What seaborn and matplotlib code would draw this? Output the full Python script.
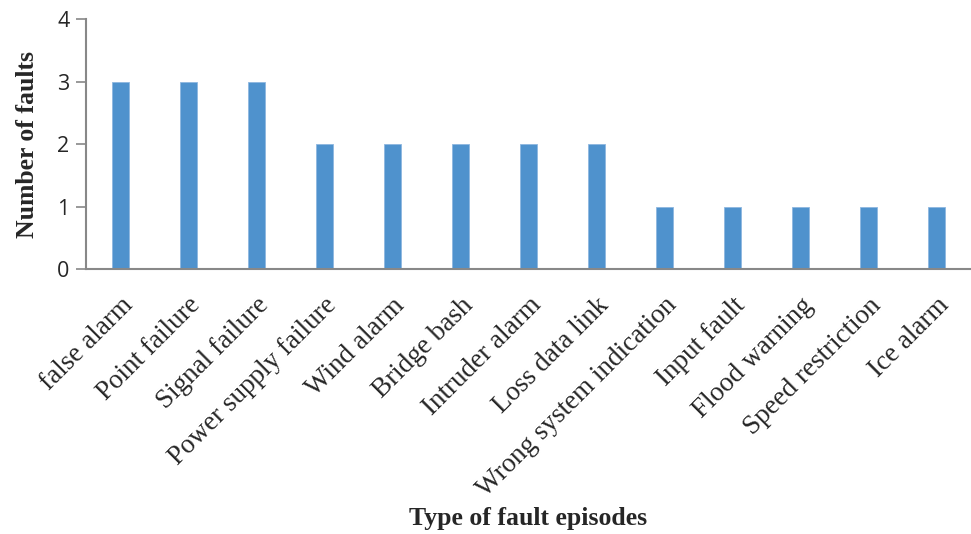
import matplotlib
matplotlib.use("Agg")
import matplotlib.pyplot as plt
import seaborn as sns
import pandas as pd

categories = ["false alarm", "Point failure", "Signal failure", "Power supply failure",
              "Wind alarm", "Bridge bash", "Intruder alarm", "Loss data link",
              "Wrong system indication", "Input fault", "Flood warning",
              "Speed restriction", "Ice alarm"]
faults = [3, 3, 3, 2, 2, 2, 2, 2, 1, 1, 1, 1, 1]

df = pd.DataFrame({"episode": categories, "faults": faults})

sns.set_theme(style="white")
plt.rcParams["font.family"] = ["Liberation Serif", "DejaVu Serif"]

fig = plt.figure(figsize=(9.71, 5.34), dpi=100)
ax = fig.add_axes([0.0886, 0.496, 0.911, 0.468])

sns.barplot(data=df, x="episode", y="faults", color="#4F92CD", width=0.25,
            saturation=1, edgecolor="#8DB7E0", linewidth=0.6, ax=ax)

ax.set_ylim(0, 4)
ax.set_yticks([0, 1, 2, 3, 4])
ax.set_yticklabels(["0", "1", "2", "3", "4"], fontsize=15.5, family=["Open Sans", "DejaVu Sans"])
ax.set_xlim(-0.5, len(categories) - 0.5)

ax.set_xticks(range(len(categories)))
ax.set_xticklabels(categories, rotation=45, ha="right", rotation_mode="anchor", fontsize=19.5)
ax.tick_params(axis="x", length=0, pad=17)
ax.tick_params(axis="y", length=7, width=1.2, color="#888888", direction="out", left=True, pad=5)

for s in ["top", "right"]:
    ax.spines[s].set_visible(False)
for s in ["left", "bottom"]:
    ax.spines[s].set_color("#888888")
    ax.spines[s].set_linewidth(1.5)

ax.set_ylabel("Number of faults", fontsize=18.5, fontweight="bold")
ax.set_xlabel("Type of fault episodes", fontsize=18.5, fontweight="bold")
ax.xaxis.set_label_coords(0.5, -0.95)
ax.yaxis.set_label_coords(-0.053, 0.5)

fig.savefig("out.png", dpi=100)
